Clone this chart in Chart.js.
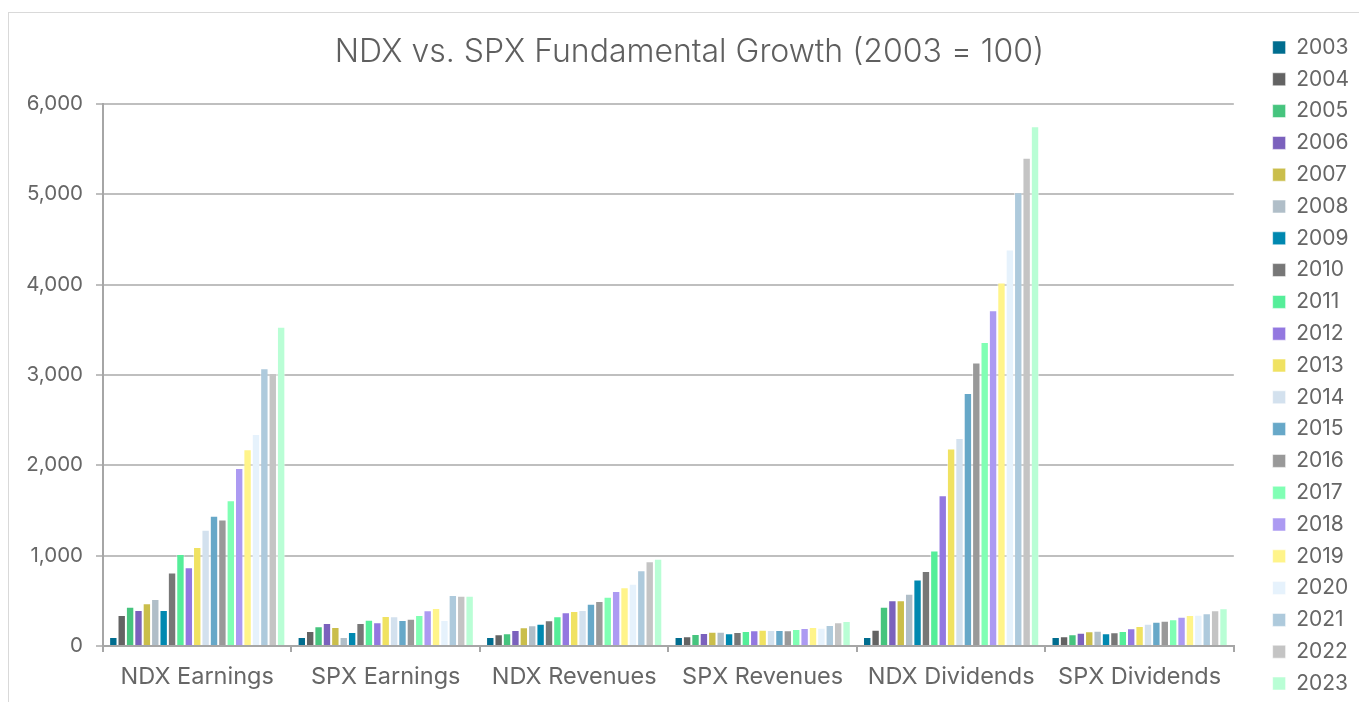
<!DOCTYPE html>
<html>
<head>
<meta charset="utf-8">
<title>NDX vs. SPX Fundamental Growth</title>
<script src="https://cdn.jsdelivr.net/npm/chart.js@4/dist/chart.umd.min.js"></script>
<style>
    html, body { margin: 0; padding: 0; background: #fff; overflow: hidden; }
    #frame { position: absolute; left: 8px; top: 12px; width: 1500px; height: 900px; border: 1px solid #d9d9d9; }
    #chart { position: absolute; left: 0; top: 0; }
</style>
</head>
<body>
<div id="frame"></div>
<canvas id="chart" width="1359" height="720"></canvas>
<script>
const categories = ['NDX Earnings', 'SPX Earnings', 'NDX Revenues', 'SPX Revenues', 'NDX Dividends', 'SPX Dividends'];
const years = ['2003', '2004', '2005', '2006', '2007', '2008', '2009', '2010', '2011', '2012', '2013',
    '2014', '2015', '2016', '2017', '2018', '2019', '2020', '2021', '2022', '2023'];

// one value per year, 2003 = 100
const ndxEarnings = [100, 343, 435, 398, 472, 520, 398, 815, 1018, 871, 1096, 1288, 1443, 1399, 1613, 1971, 2177, 2347, 3074, 3019, 3535];
const spxEarnings = [100, 166, 218, 254, 210, 100, 155, 254, 291, 262, 332, 328, 288, 303, 343, 395, 421, 288, 564, 557, 557];
const ndxRevenues = [100, 129, 140, 177, 207, 229, 247, 284, 328, 373, 387, 398, 469, 498, 546, 609, 650, 690, 838, 937, 967];
const spxRevenues = [100, 107, 133, 144, 159, 159, 140, 155, 166, 173, 181, 177, 177, 173, 188, 199, 210, 203, 232, 262, 277];
const ndxDividends = [100, 180, 435, 507, 507, 579, 736, 829, 1058, 1670, 2185, 2302, 2801, 3139, 3364, 3718, 4024, 4390, 5022, 5404, 5755];
const spxDividends = [100, 107, 129, 148, 162, 170, 140, 151, 166, 196, 221, 247, 269, 280, 295, 325, 343, 347, 362, 395, 417];

const yearColors = ['#006d8f', '#636363', '#46c47e', '#7b61bd', '#cabe4b', '#b0bec8', '#0088b0',
    '#777777', '#55ee99', '#9378e0', '#f0e262', '#d3e1ee', '#67a8c8', '#999999',
    '#80ffb4', '#ac9af2', '#fff48a', '#e6f2fc', '#aecadc', '#c4c4c4', '#b9fed5'];

const metrics = [ndxEarnings, spxEarnings, ndxRevenues, spxRevenues, ndxDividends, spxDividends];

const datasets = years.map((year, i) => ({
    label: year,
    data: metrics.map(m => m[i]),
    backgroundColor: yearColors[i],
    borderColor: 'rgba(255,255,255,0.55)',
    borderWidth: 1,
    barPercentage: 1,
    categoryPercentage: 0.935
}));

// nudge the title to sit where the original one does
const titleShift = {
    id: 'titleShift',
    afterLayout(chart) {
        if (chart.titleBlock) {
            chart.titleBlock.left += 21;
            chart.titleBlock.right += 21;
        }
    }
};

Chart.defaults.font.family = 'Inter, "Open Sans", sans-serif';
Chart.defaults.color = '#666666';

const ctx = document.getElementById('chart');
new Chart(ctx, {
    type: 'bar',
    data: { labels: categories, datasets: datasets },
    plugins: [titleShift],
    options: {
        responsive: false,
        animation: false,
        devicePixelRatio: 1,
        locale: 'en-US',
        layout: { padding: { top: 26.2, right: 0, bottom: 0, left: 0 } },
        plugins: {
            title: {
                display: true,
                text: 'NDX vs. SPX Fundamental Growth (2003 = 100)',
                fullSize: false,
                color: '#5f5f5f',
                font: { size: 32, weight: '300' },
                padding: { top: 6.6, bottom: 32.8 }
            },
            legend: {
                position: 'right',
                align: 'start',
                labels: {
                    boxWidth: 13,
                    boxHeight: 13,
                    padding: 10.8,
                    color: '#666666',
                    font: { size: 21 }
                }
            },
            tooltip: { enabled: false }
        },
        scales: {
            x: {
                grid: {
                    offset: true,
                    drawOnChartArea: false,
                    drawTicks: true,
                    tickLength: 6,
                    color: '#a6a6a6',
                    lineWidth: 2
                },
                border: { color: '#a6a6a6', width: 2 },
                ticks: { font: { size: 23.5 }, padding: 11, color: '#666666' },
                afterFit: s => { s.height = 74; }
            },
            y: {
                min: 0,
                max: 6000,
                ticks: { stepSize: 1000, font: { size: 20.5 }, padding: 13, color: '#666666' },
                grid: { color: '#bfbfbf', lineWidth: 2, tickLength: 7 },
                border: { color: '#a6a6a6', width: 2 },
                afterFit: s => { s.width = 103; }
            },
            spacer: {
                position: 'right',
                grid: { display: false },
                border: { display: false },
                ticks: { display: false },
                afterFit: s => { s.width = 28; }
            }
        }
    }
});
</script>
</body>
</html>
